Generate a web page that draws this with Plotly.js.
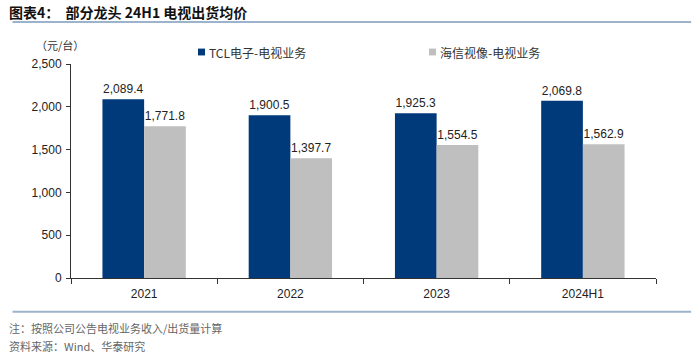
<!DOCTYPE html>
<html>
<head>
<meta charset="utf-8">
<script src="https://cdn.plot.ly/plotly-3.0.1.min.js"></script>
<style>html,body{margin:0;padding:0;background:#fff;}#chart{width:700px;height:357px;}</style>
</head>
<body>
<div id="chart"></div>
<script>
const categories = ['2021', '2022', '2023', '2024H1'];
const tclValues = [2089.4, 1900.5, 1925.3, 2069.8];
const hisenseValues = [1771.8, 1397.7, 1554.5, 1562.9];
const seriesNames = ['TCL电子-电视业务', '海信视像-电视业务'];
const seriesColors = ['#013A7B', '#BFBFBF'];
const yTicks = [0, 500, 1000, 1500, 2000, 2500];

const cjk = '"Noto Sans CJK SC", "Liberation Sans", Arial, sans-serif';
const latin = '"Liberation Sans", Arial, "Noto Sans CJK SC", sans-serif';

const traces = [tclValues, hisenseValues].map((vals, i) => ({
  type: 'bar', x: categories, y: vals, name: seriesNames[i],
  marker: {color: seriesColors[i]},
  texttemplate: '%{y:,.1f}', textposition: 'outside', cliponaxis: false,
  textfont: {family: latin, size: 12, color: '#222'}
}));

// custom legend (square + text), positioned in paper coordinates
const legendX = [0.2171, 0.612];
const legendShapes = legendX.map((x, i) => ({
  type: 'rect', xref: 'paper', yref: 'paper',
  x0: x, x1: x + 0.012, y0: 1.04, y1: 1.072,
  fillcolor: seriesColors[i], line: {width: 0}
}));
const legendTexts = legendX.map((x, i) => ({
  xref: 'paper', yref: 'paper', x: x + 0.016, y: 1.056, xanchor: 'left', yanchor: 'middle',
  text: seriesNames[i], showarrow: false,
  font: {family: cjk, size: 12, color: '#333'}
}));

const layout = {
  width: 700, height: 357,
  margin: {l: 71, r: 44, t: 64, b: 79},
  paper_bgcolor: '#fff', plot_bgcolor: '#fff',
  barmode: 'group', bargap: 0.43, bargroupgap: 0,
  showlegend: false,
  xaxis: {
    type: 'category', showline: true, linecolor: '#333', linewidth: 1,
    ticks: 'outside', tickson: 'boundaries', ticklen: 5, tickcolor: '#333',
    ticklabelstandoff: 5,
    tickfont: {family: '"Liberation Sans Narrow", "Liberation Sans", Arial, sans-serif', size: 12, color: '#222'},
    showgrid: false, zeroline: false
  },
  yaxis: {
    range: [0, 2500], tickvals: yTicks, tickformat: ',',
    showline: true, linecolor: '#333', linewidth: 1,
    ticks: 'outside', ticklen: 4, tickcolor: '#333',
    ticklabelstandoff: 2,
    tickfont: {family: latin, size: 12, color: '#222'},
    showgrid: false, zeroline: false
  },
  shapes: [
    {type: 'line', xref: 'paper', yref: 'paper', x0: -0.1, x1: 1.06, y0: 1.196, y1: 1.196,
     line: {color: '#9DB3CC', width: 2}},
    {type: 'line', xref: 'paper', yref: 'paper', x0: -0.1, x1: 1.06, y0: -0.158, y1: -0.158,
     line: {color: '#9DB3CC', width: 2}}
  ].concat(legendShapes),
  annotations: [
    {xref: 'paper', yref: 'paper', x: -0.11, y: 1.243, xanchor: 'left', yanchor: 'middle',
     text: '<b>图表4：  部分龙头 24H1 电视出货均价</b>', showarrow: false,
     font: {family: cjk, size: 14, color: '#111'}},
    {xref: 'paper', yref: 'paper', x: -0.063, y: 1.09, xanchor: 'left', yanchor: 'middle',
     text: '（元/台）', showarrow: false,
     font: {family: cjk, size: 11, color: '#333'}},
    {xref: 'paper', yref: 'paper', x: -0.11, y: -0.233, xanchor: 'left', yanchor: 'middle',
     text: '注：按照公司公告电视业务收入/出货量计算', showarrow: false,
     font: {family: cjk, size: 11, color: '#666'}},
    {xref: 'paper', yref: 'paper', x: -0.11, y: -0.318, xanchor: 'left', yanchor: 'middle',
     text: '资料来源：Wind、华泰研究', showarrow: false,
     font: {family: cjk, size: 11, color: '#666'}}
  ].concat(legendTexts)
};

Plotly.newPlot('chart', traces, layout, {displayModeBar: false, staticPlot: true});
</script>
</body>
</html>
